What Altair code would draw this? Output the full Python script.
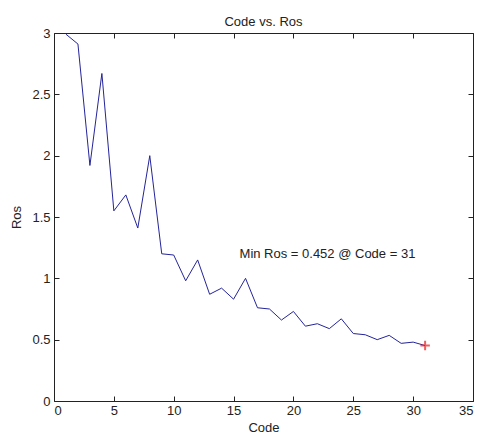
import altair as alt
import pandas as pd

codes = list(range(1, 32))
ros = [2.99, 2.91, 1.92, 2.67, 1.55, 1.68, 1.41, 2.00, 1.20, 1.19,
       0.98, 1.15, 0.87, 0.92, 0.83, 1.00, 0.76, 0.75, 0.66, 0.73,
       0.61, 0.63, 0.59, 0.67, 0.55, 0.54, 0.50, 0.535, 0.47, 0.48, 0.452]
min_code = [31]
min_ros = [0.452]
note_text = ["Min Ros = 0.452 @ Code = 31"]
note_x = [15.5]
note_y = [1.2]
x_ticks = [0, 5, 10, 15, 20, 25, 30, 35]
y_ticks = [0, 0.5, 1, 1.5, 2, 2.5, 3]

df = pd.DataFrame({"Code": codes, "Ros": ros})
df_min = pd.DataFrame({"Code": min_code, "Ros": min_ros})
df_note = pd.DataFrame({"Code": note_x, "Ros": note_y, "t": note_text})

FONT = "Liberation Sans"
AX = "#222222"
xs = alt.Scale(domain=[0, 35], nice=False, zero=False)
ys = alt.Scale(domain=[0, 3], nice=False, zero=False)

common = dict(domain=False, grid=False, tickSize=5, tickColor=AX, tickWidth=1,
              labelFont=FONT, labelFontSize=13, labelColor=AX,
              titleFont=FONT, titleFontSize=13, titleColor=AX, titleFontWeight="normal",
              format="~g", offset=-5)

line = alt.Chart(df).mark_line(color="#24249a", strokeWidth=1).encode(
    x=alt.X("Code:Q", scale=xs,
            axis=alt.Axis(orient="bottom", values=x_ticks, labelPadding=3,
                          title="Code", titlePadding=4, **common)),
    y=alt.Y("Ros:Q", scale=ys,
            axis=alt.Axis(orient="left", values=y_ticks, labelPadding=4,
                          title="Ros", titlePadding=8, **common)),
)

marker = alt.Chart(df_min).mark_point(
    shape="M-1,0L1,0M0,-1L0,1", size=90, color="#e81c1c", filled=False, strokeWidth=2
).encode(
    x=alt.X("Code:Q", scale=xs,
            axis=alt.Axis(orient="top", values=x_ticks, labels=False, title=None, **common)),
    y=alt.Y("Ros:Q", scale=ys,
            axis=alt.Axis(orient="right", values=y_ticks, labels=False, title=None, **common)),
)

note = alt.Chart(df_note).mark_text(
    align="left", baseline="middle", font=FONT, fontSize=13, color=AX
).encode(
    x=alt.X("Code:Q", scale=xs, axis=None),
    y=alt.Y("Ros:Q", scale=ys, axis=None),
    text="t:N",
)

chart = alt.layer(line, marker, note).properties(
    width=419, height=368,
    title=alt.TitleParams("Code vs. Ros", font=FONT, fontSize=13, fontWeight="normal",
                          color=AX, offset=-2),
    autosize=alt.AutoSizeParams(type="none"),
    padding={"left": 54, "top": 33, "right": 8, "bottom": 32},
    background="white",
).configure_view(stroke=AX, strokeWidth=1)

chart.save("out.html", embed_options={"renderer": "svg", "actions": False})
